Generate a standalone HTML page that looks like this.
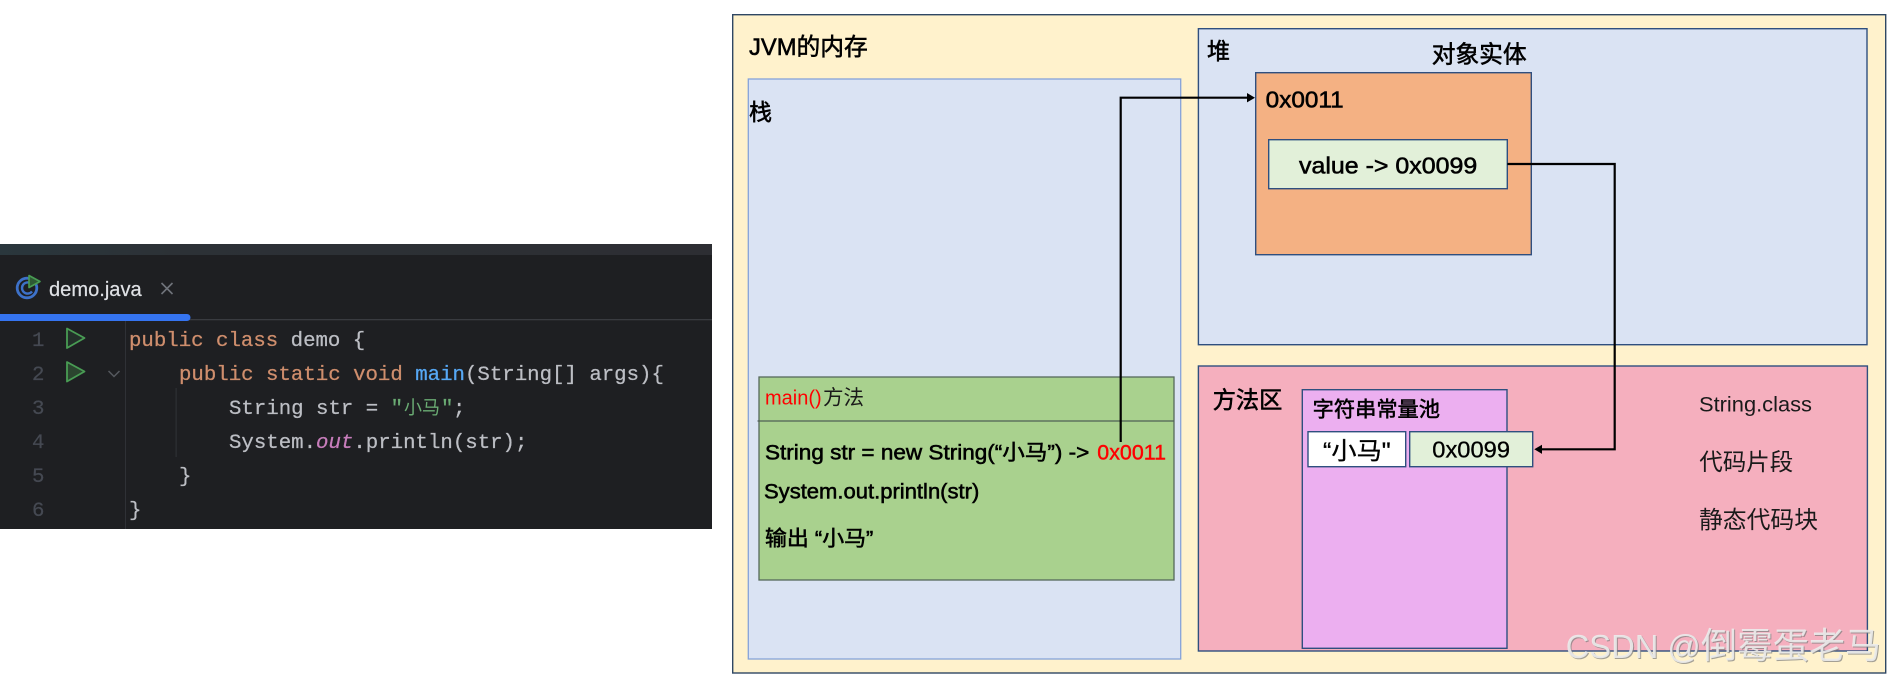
<!DOCTYPE html>
<html lang="zh">
<head>
<meta charset="utf-8">
<title>JVM memory diagram</title>
<style>
html,body{margin:0;padding:0;background:#fff;width:1888px;height:680px;overflow:hidden}
svg{display:block;filter:blur(.3px)}
text{font-family:"Liberation Sans","Noto Sans CJK SC",sans-serif;white-space:pre}
.m text,text.m,.m tspan{font-family:"Liberation Mono","Noto Sans CJK SC",monospace;font-size:20.72px;stroke-width:.25px;stroke:currentColor}
.s{stroke:#000;stroke-width:.55px;fill:#000}
</style>
</head>
<body>
<svg width="1888" height="680" viewBox="0 0 1888 680" xmlns="http://www.w3.org/2000/svg">
<defs>
<linearGradient id="strip" x1="0" x2="1" y1="0" y2="0">
<stop offset="0" stop-color="#2a373d"/><stop offset=".25" stop-color="#2c3136"/><stop offset="1" stop-color="#2d2e33"/>
</linearGradient>
</defs>

<!-- code panel -->
<rect x="0" y="244" width="712" height="285" fill="#1e1f22"/>
<rect x="0" y="244" width="712" height="11" fill="url(#strip)"/>
<rect x="0" y="319" width="712" height="1.3" fill="#393b40"/>
<rect x="125" y="320" width="1" height="209" fill="#2f3136"/>
<path d="M0 314H187a3.5 3.5 0 0 1 0 7H0Z" fill="#3574f0"/>
<circle cx="27" cy="288" r="9.8" fill="none" stroke="#3d71c9" stroke-width="2.8"/>
<path d="M32 284.5a5.6 5.6 0 1 0 0 7" fill="none" stroke="#3d71c9" stroke-width="2.4"/>
<path d="M29 275.5L40 281.5L29 287.5Z" fill="#2e5a34" stroke="#499c54" stroke-width="1.6" stroke-linejoin="round"/>
<text x="49" y="296" font-size="20" fill="#dfe1e5" stroke="#dfe1e5" stroke-width=".2" textLength="92.7" lengthAdjust="spacingAndGlyphs">demo.java</text>
<path d="M161.5 283L172.5 294M172.5 283L161.5 294" stroke="#6f737a" stroke-width="1.6" fill="none"/>
<g stroke="#499c54" stroke-width="1.8" stroke-linejoin="round" fill="#23302a">
<path d="M67 328.5L84.5 338L67 348Z"/>
<path d="M67 362L84.5 371.5L67 381.5Z" fill="#2b452f"/>
</g>
<path d="M108.5 371L114 376.5L119.5 371" stroke="#55585e" stroke-width="1.5" fill="none"/>
<rect x="175.6" y="388" width="1" height="69" fill="#313438"/>
<g class="m" fill="#454952" color="#454952">
<text x="32" y="346">1</text><text x="32" y="380">2</text><text x="32" y="414">3</text><text x="32" y="448">4</text><text x="32" y="482">5</text><text x="32" y="516">6</text>
</g>
<g class="m" fill="#bcbec4" color="#bcbec4">
<text x="129" y="346"><tspan fill="#cf8e6d" color="#cf8e6d">public class</tspan> demo {</text>
<text x="179" y="380"><tspan fill="#cf8e6d" color="#cf8e6d">public static void</tspan> <tspan fill="#56a8f5" color="#56a8f5">main</tspan>(String[] args){</text>
<text x="229" y="414">String str = <tspan fill="#6aab73" color="#6aab73">"</tspan></text>
<text x="441" y="414" fill="#6aab73" color="#6aab73">"</text><text x="453" y="414">;</text>
<text x="229" y="448">System.<tspan fill="#c77dbb" color="#c77dbb" font-style="italic">out</tspan>.println(str);</text>
<text x="179" y="482">}</text>
<text x="129" y="516">}</text>
</g>
<text x="404" y="414" font-size="18.5" fill="#6aab73" textLength="36" lengthAdjust="spacingAndGlyphs">小马</text>

<!-- outer JVM -->
<rect x="732.7" y="14.7" width="1153" height="658.3" fill="#fff2cc" stroke="#2f4763" stroke-width="1.4"/>
<text x="749" y="55" font-size="24" class="s" textLength="118.7" lengthAdjust="spacingAndGlyphs">JVM的内存</text>

<!-- stack -->
<rect x="748.3" y="79" width="432.4" height="580" fill="#dae3f3" stroke="#85a3da" stroke-width="1.3"/>
<text x="749" y="120" font-size="23" class="s">栈</text>

<!-- main method box -->
<rect x="759" y="377" width="415" height="203" fill="#a9d18e" stroke="#56695c" stroke-width="1.3"/>
<line x1="757.5" y1="421" x2="1174" y2="421" stroke="#4f5f55" stroke-width="1.3"/>
<text x="765" y="404.3" font-size="20" fill="#ff0000" textLength="56.7" lengthAdjust="spacingAndGlyphs">main()</text>
<text x="823" y="404.3" font-size="20.5" fill="#1a1a1a">方法</text>
<text x="765" y="459.3" font-size="21" class="s" textLength="324.3" lengthAdjust="spacingAndGlyphs">String str = new String(“小马”) -&gt;</text>
<text x="1097.3" y="459.3" font-size="21" fill="#ff0000" stroke="#ff0000" stroke-width=".4" textLength="68.7" lengthAdjust="spacingAndGlyphs">0x0011</text>
<text x="764" y="498.3" font-size="21" class="s" textLength="215.3" lengthAdjust="spacingAndGlyphs">System.out.println(str)</text>
<text x="765" y="545.5" font-size="21" class="s" textLength="108.3" lengthAdjust="spacingAndGlyphs">输出 “小马”</text>

<!-- heap -->
<rect x="1198.4" y="28.7" width="668.6" height="316" fill="#dae3f3" stroke="#2f4f7f" stroke-width="1.4"/>
<text x="1207" y="59" font-size="23" class="s">堆</text>
<text x="1431.7" y="62.5" font-size="24" class="s" textLength="95" lengthAdjust="spacingAndGlyphs">对象实体</text>
<rect x="1255.7" y="72.7" width="275.6" height="182" fill="#f4b183" stroke="#2f4f7f" stroke-width="1.4"/>
<text x="1265.7" y="107.3" font-size="23" class="s" textLength="78" lengthAdjust="spacingAndGlyphs">0x0011</text>
<rect x="1268.7" y="139.7" width="238.6" height="49" fill="#e2f0d9" stroke="#2f4f7f" stroke-width="1.4"/>
<text x="1299" y="173.3" font-size="23" class="s" textLength="178.3" lengthAdjust="spacingAndGlyphs">value -&gt; 0x0099</text>

<!-- method area -->
<rect x="1198.4" y="366" width="669" height="285" fill="#f5afbe" stroke="#2f4f7f" stroke-width="1.4"/>
<text x="1212.7" y="408" font-size="23.5" class="s" textLength="69.6" lengthAdjust="spacingAndGlyphs">方法区</text>
<rect x="1302.3" y="389.7" width="204.7" height="258.6" fill="#ecaff0" stroke="#2f4f7f" stroke-width="1.4"/>
<text x="1312.7" y="416.5" font-size="21" class="s" textLength="127.3" lengthAdjust="spacingAndGlyphs">字符串常量池</text>
<rect x="1308" y="431.7" width="97.7" height="35" fill="#ffffff" stroke="#2f4f7f" stroke-width="1.4"/>
<text x="1323" y="458.8" font-size="24" class="s" style="stroke-width:.3px" textLength="67.7" lengthAdjust="spacingAndGlyphs">“小马"</text>
<rect x="1409.7" y="431.7" width="123" height="35" fill="#e2f0d9" stroke="#2f4f7f" stroke-width="1.4"/>
<text x="1432.3" y="457.7" font-size="23" class="s" style="stroke-width:.3px" textLength="77.7" lengthAdjust="spacingAndGlyphs">0x0099</text>
<text x="1699" y="411.3" font-size="21" fill="#1a1a1a" textLength="113" lengthAdjust="spacingAndGlyphs">String.class</text>
<text x="1699.3" y="470" font-size="23.5" fill="#1a1a1a" textLength="94" lengthAdjust="spacingAndGlyphs">代码片段</text>
<text x="1699" y="528" font-size="24" fill="#1a1a1a" textLength="119" lengthAdjust="spacingAndGlyphs">静态代码块</text>

<!-- connectors -->
<g fill="none" stroke="#000" stroke-width="2.2">
<path d="M1120.7 442V97.7H1249"/>
<path d="M1507.3 164H1614.7V449.3H1540"/>
</g>
<path d="M1255 97.7L1247 93V102.4Z" fill="#000"/>
<path d="M1534.3 449.3L1542 444.7V453.9Z" fill="#000"/>

<!-- watermark -->
<g font-size="33" fill="#7d7d7d" fill-opacity=".7">
<text x="1566.7" y="659" textLength="135" lengthAdjust="spacingAndGlyphs">CSDN @</text>
<text x="1702" y="659" font-size="36" textLength="180" lengthAdjust="spacingAndGlyphs">倒霉蛋老马</text>
</g>
<g font-size="33" fill="#ececec" fill-opacity=".9">
<text x="1565.7" y="658" textLength="135" lengthAdjust="spacingAndGlyphs">CSDN @</text>
<text x="1701" y="658" font-size="36" textLength="180" lengthAdjust="spacingAndGlyphs">倒霉蛋老马</text>
</g>
</svg>
</body>
</html>
